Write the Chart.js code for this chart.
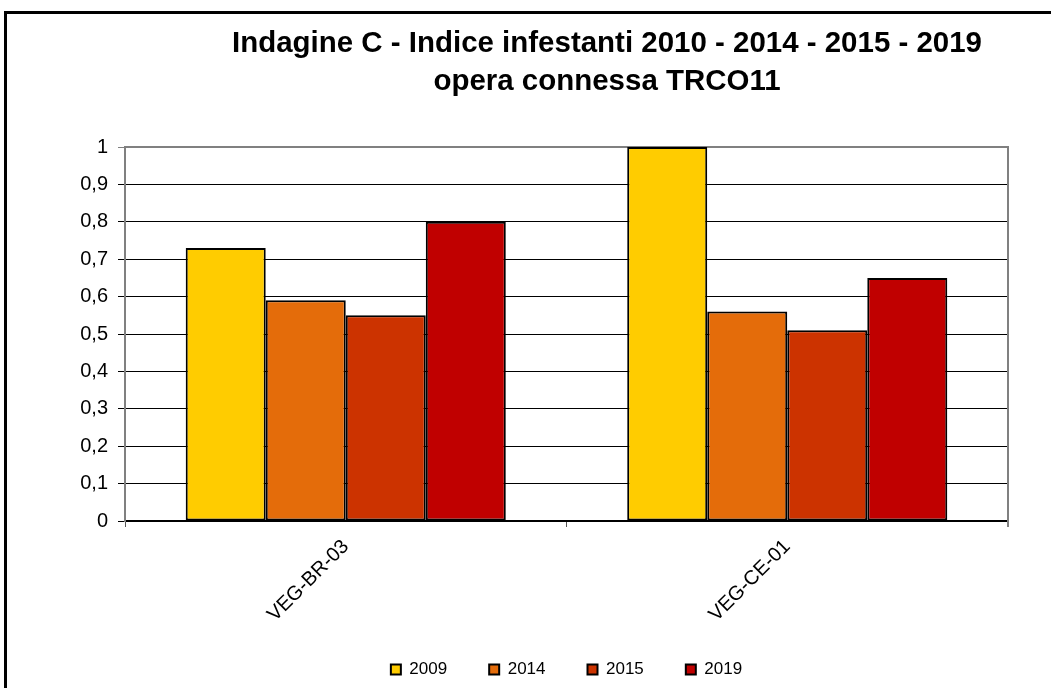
<!DOCTYPE html>
<html>
<head>
<meta charset="utf-8">
<script src="https://cdn.jsdelivr.net/npm/chart.js@4"></script>
<style>
  body { margin: 0; background: #fff; overflow: hidden; }
  #wrap { position: relative; width: 1051px; height: 688px; }
  #frame { position: absolute; left: 4px; top: 11px; width: 1100px; height: 800px;
           border: 3px solid #000; pointer-events: none; }
</style>
</head>
<body>
<div id="wrap">
  <canvas id="chart" width="1051" height="688"></canvas>
  <div id="frame"></div>
</div>
<script>
// data
const categories = ['VEG-BR-03', 'VEG-CE-01'];
const seriesNames = ['2009', '2014', '2015', '2019'];
const values2009 = [0.73, 1.00];
const values2014 = [0.59, 0.56];
const values2015 = [0.55, 0.51];
const values2019 = [0.80, 0.65];
const seriesColors = ['#FFCC00', '#E46C0A', '#CC3300', '#C00000'];
const titleLines = ['Indagine C - Indice infestanti 2010 - 2014 - 2015 - 2019', 'opera connessa TRCO11'];

const FONT = "'Liberation Sans', Arial, sans-serif";

// title is drawn by hand: condensed look, and it sits right of the canvas centre
const titlePlugin = {
  id: 'titleLines',
  afterDraw(chart) {
    const ctx = chart.ctx;
    ctx.save();
    ctx.fillStyle = '#000';
    ctx.font = "bold 29px 'Liberation Sans', Arial, sans-serif";
    ctx.textAlign = 'center';
    ctx.textBaseline = 'alphabetic';
    const squeeze = 750 / ctx.measureText(titleLines[0]).width;
    ctx.translate(607, 0);
    ctx.scale(squeeze, 1);
    ctx.fillText(titleLines[0], 0, 52);
    ctx.fillText(titleLines[1], 0, 90);
    ctx.restore();
  }
};

// gray frame on top and right of the plot area
const framePlugin = {
  id: 'plotFrame',
  beforeDatasetsDraw(chart) {
    const a = chart.chartArea;
    const ctx = chart.ctx;
    ctx.save();
    ctx.strokeStyle = '#808080';
    ctx.lineWidth = 2;
    ctx.beginPath();
    ctx.moveTo(a.left, a.top);
    ctx.lineTo(a.right, a.top);
    ctx.lineTo(a.right, a.bottom + 6);
    ctx.stroke();
    ctx.restore();
  }
};

const allValues = [values2009, values2014, values2015, values2019];

new Chart(document.getElementById('chart'), {
  type: 'bar',
  data: {
    labels: categories,
    datasets: seriesNames.map((name, i) => ({
      label: name,
      data: allValues[i],
      backgroundColor: seriesColors[i],
      borderColor: '#000',
      borderWidth: 2,
      borderSkipped: false,
      barPercentage: 1,
      categoryPercentage: 0.725
    }))
  },
  options: {
    responsive: false,
    animation: false,
    devicePixelRatio: 1,
    layout: { padding: { top: 147, right: 43, left: 0, bottom: 0 } },
    scales: {
      x: {
        grid: { drawOnChartArea: false, drawTicks: true, tickLength: 6, color: '#555', offset: true },
        border: { color: '#000', width: 2 },
        ticks: {
          color: '#000',
          font: { family: FONT, size: 20 },
          minRotation: 45,
          maxRotation: 45,
          padding: 8
        },
        afterFit(scale) { scale.height = 98; }
      },
      y: {
        min: 0,
        max: 1,
        grid: {
          color: ctx => (ctx.tick && ctx.tick.value === 1) ? '#808080' : '#000',
          lineWidth: 1,
          tickLength: 7
        },
        border: { color: '#808080', width: 2 },
        ticks: {
          stepSize: 0.1,
          color: '#000',
          font: { family: FONT, size: 20 },
          padding: 10,
          callback: v => Number(v.toFixed(1)).toString().replace('.', ',')
        },
        afterFit(scale) { scale.width = 125; }
      }
    },
    plugins: {
      title: { display: false },
      tooltip: { enabled: false },
      legend: {
        position: 'bottom',
        fullSize: false,
        labels: {
          color: '#000',
          font: { family: FONT, size: 17 },
          boxWidth: 10,
          boxHeight: 10,
          padding: 42
        }
      }
    }
  },
  plugins: [titlePlugin, framePlugin]
});
</script>
</body>
</html>
